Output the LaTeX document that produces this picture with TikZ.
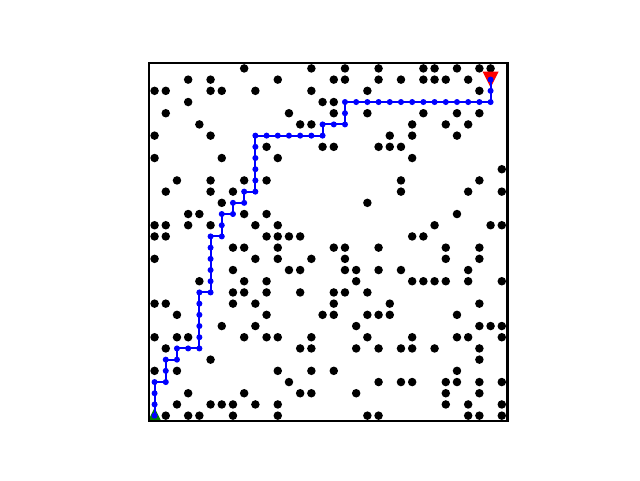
\documentclass[tikz,border=0pt]{standalone}
\usepackage{tikz}

\begin{document}
\begin{tikzpicture}[x=0.35cm,y=0.35cm]
    % Page with the same margins as the figure
    \useasboundingbox (-13.8,-5.75) rectangle (43.34,37.11);

    % Obstacles, one row of the grid at a time
    \foreach \r/\cols in {31/{8,14,17,20,24,25,27,29,30},
                          30/{3,5,11,16,17,20,22,24,25,26,28},
                          29/{0,1,5,6,9,14,19,29},
                          28/{3,15,16},
                          27/{1,12,16,19,24,27,29},
                          26/{4,13,14,23,26,28},
                          25/{0,5,21,23,27},
                          24/{10,15,16,20,21,22},
                          23/{0,6,11,23},
                          22/{31},
                          21/{2,5,8,10,22,29},
                          20/{1,5,7,22,28,31},
                          19/{6,19},
                          18/{3,4,8,10,27},
                          17/{0,1,3,5,9,11,25,30,31},
                          16/{0,1,10,11,12,13,23,24},
                          15/{7,8,11,16,17,20,26,29},
                          14/{0,9,11,14,17,26,29},
                          13/{7,12,13,17,18,20,22,28},
                          12/{4,8,10,18,23,24,25,26,28,31},
                          11/{7,8,10,13,16,17,19},
                          10/{0,1,7,9,16,21,29},
                          9/{2,10,15,16,19,20,21,27},
                          8/{6,9,18,29,30,31},
                          7/{0,2,3,8,10,11,14,19,23,27,28,31},
                          6/{1,13,14,18,20,22,23,25,29},
                          5/{5,29},
                          4/{0,2,11,14,16,27},
                          3/{12,20,22,23,26,27,29,31},
                          2/{3,8,13,14,18,26,29},
                          1/{2,5,6,7,9,11,26,28,31},
                          0/{1,3,4,7,11,19,20,28,29,31}} {
        \foreach \c in \cols {
            \fill (\c,\r) circle (0.38);
        }
    }

    % Start and goal markers (cut off at the frame)
    \begin{scope}
        \clip (-0.5,-0.5) rectangle (31.5,31.5);
        \fill[green!50!black] (-0.71,-0.71) -- (0.71,-0.71) -- (0,0.71) -- cycle;
        \fill[red] (29.29,30.71) -- (30.71,30.71) -- (30,29.29) -- cycle;
    \end{scope}

    % Path found from start to goal
    \def\route{0/1,0/2,0/3,1/3,1/4,1/5,2/5,2/6,3/6,4/6,4/7,4/8,4/9,4/10,4/11,
        5/11,5/12,5/13,5/14,5/15,5/16,6/16,6/17,6/18,7/18,7/19,8/19,8/20,
        9/20,9/21,9/22,9/23,9/24,9/25,10/25,11/25,12/25,13/25,14/25,15/25,
        15/26,16/26,17/26,17/27,17/28,18/28,19/28,20/28,21/28,22/28,23/28,
        24/28,25/28,26/28,27/28,28/28,29/28,30/28,30/29,30/30}
    \draw[blue, line width=1.8pt, line join=round] (0,0)
        \foreach \x/\y in \route { -- (\x,\y) };
    \fill[blue] (0,0) circle (0.27);
    \foreach \x/\y in \route {
        \fill[blue] (\x,\y) circle (0.27);
    }

    % Axes frame
    \draw[line width=2pt] (-0.5,-0.5) rectangle (31.5,31.5);
\end{tikzpicture}
\end{document}
